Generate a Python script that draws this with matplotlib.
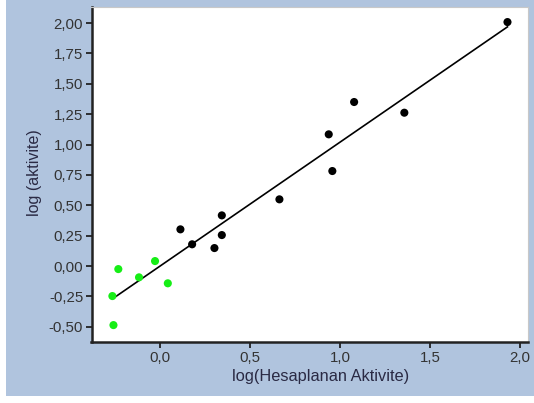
import matplotlib
matplotlib.use("Agg")
import matplotlib.pyplot as plt
from matplotlib.patches import Rectangle
from matplotlib.ticker import FuncFormatter

plt.rcParams['font.family'] = ['Liberation Sans', 'DejaVu Sans']

# Training set (black) and test set (green), log-scaled activities
train_x = [0.113, 0.178, 0.302, 0.343, 0.343, 0.663, 0.937, 0.957, 1.078, 1.357, 1.930]
train_y = [0.302, 0.179, 0.148, 0.417, 0.255, 0.549, 1.084, 0.782, 1.350, 1.262, 2.008]
test_x = [-0.232, -0.117, -0.028, 0.043, -0.265, -0.259]
test_y = [-0.025, -0.093, 0.041, -0.142, -0.247, -0.486]

# Regression line y = slope * x + intercept over the fitted range
fit_slope = 1.02
fit_intercept = 0.0
fit_x_range = [-0.265, 1.93]

x_ticks = [0.0, 0.5, 1.0, 1.5, 2.0]
y_ticks = [-0.50, -0.25, 0.00, 0.25, 0.50, 0.75, 1.00, 1.25, 1.50, 1.75, 2.00]

W, H = 534, 403
fig = plt.figure(figsize=(W / 100, H / 100), dpi=100, facecolor='white')
fig.patches.append(Rectangle((6 / W, 7 / H), 1 - 6 / W, 1 - 7 / H, transform=fig.transFigure,
                             facecolor='#b0c4de', edgecolor='none', zorder=-10))

ax = fig.add_axes([91.5 / W, 1 - 341.5 / H, (528 - 91.5) / W, (341.5 - 7) / H])
ax.set_facecolor('white')
ax.set_xlim(-0.381, 2.044)
ax.set_ylim(-0.621, 2.132)

line_y = [fit_slope * x + fit_intercept for x in fit_x_range]
ax.plot(fit_x_range, line_y, color='black', lw=1.2, zorder=2)
ax.scatter(train_x, train_y, s=34, color='black', edgecolors='none', zorder=3)
ax.scatter(test_x, test_y, s=34, color='#16ee16', edgecolors='none', zorder=3)

ax.set_xticks(x_ticks)
ax.set_yticks(y_ticks)
ax.xaxis.set_major_formatter(FuncFormatter(lambda v, p: f"{v:.1f}".replace('.', ',')))
ax.yaxis.set_major_formatter(FuncFormatter(lambda v, p: f"{v:.2f}".replace('.', ',')))
ax.tick_params(axis='both', direction='out', length=4, width=1.3, color='#222222',
               labelsize=10.8, labelcolor='#333333')
ax.tick_params(axis='y', pad=2)
ax.tick_params(axis='x', pad=3)

for side in ('left', 'bottom'):
    ax.spines[side].set_color('#222222')
    ax.spines[side].set_linewidth(1.8)
for side in ('top', 'right'):
    ax.spines[side].set_color('#c8c8c8')
    ax.spines[side].set_linewidth(0.8)

fig.text(321 / W, 1 - 377 / H, 'log(Hesaplanan Aktivite)', ha='center', va='center',
         fontsize=11.8, color='#2a2a44')
fig.text(35 / W, 1 - 173 / H, 'log (aktivite)', ha='center', va='center', rotation=90,
         fontsize=11.5, color='#2a2a44')

fig.savefig('out.png', dpi=100, facecolor=fig.get_facecolor())
